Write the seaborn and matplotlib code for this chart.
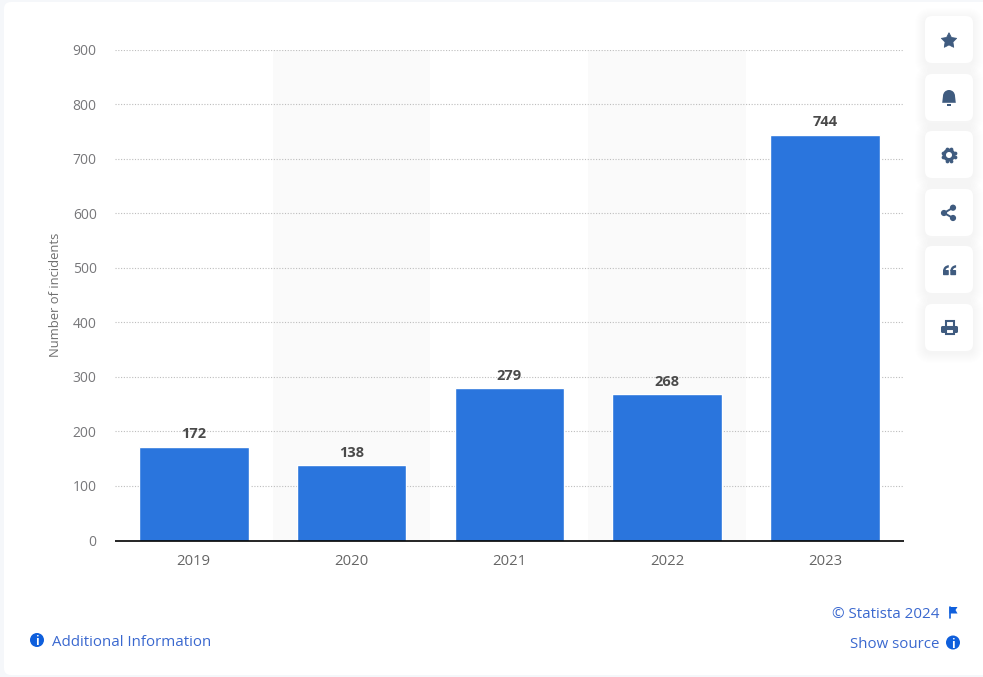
import math
import matplotlib
matplotlib.use('Agg')
import matplotlib.pyplot as plt
import matplotlib.patches as mpatches
import pandas as pd
import seaborn as sns

years = ['2019', '2020', '2021', '2022', '2023']
incidents = [172, 138, 279, 268, 744]
y_ticks = [0, 100, 200, 300, 400, 500, 600, 700, 800, 900]
shaded_years = ['2020', '2022']

sns.set_style('white')
plt.rcParams['font.family'] = ['Open Sans', 'DejaVu Sans']

W, H = 983, 677
BLUE = '#2a75dd'
ICON = '#3f5b7f'
LINK = '#0f5fdc'
LINK_TEXT = '#3a68cf'

df = pd.DataFrame({'year': years, 'incidents': incidents})

fig = plt.figure(figsize=(W / 100, H / 100), dpi=100, facecolor='#f5f7fa')

# page behind the chart, pixel coordinates
bg = fig.add_axes([0, 0, 1, 1], zorder=0)
bg.set_xlim(0, W)
bg.set_ylim(H, 0)
bg.axis('off')
bg.add_patch(mpatches.FancyBboxPatch((4, 2), W + 20, 673, boxstyle='round,pad=0,rounding_size=7',
                                     fc='white', ec='none'))

ax = fig.add_axes([114.8 / W, 1 - 540.5 / H, 789.2 / W, 491 / H], zorder=1)
ax.patch.set_alpha(0)
sns.barplot(data=df, x='year', y='incidents', color=BLUE, width=0.695, saturation=1, ax=ax, zorder=3)
ax.set_xlim(-0.5, 4.5)
ax.set_ylim(0, 900)

for yr in shaded_years:
    i = years.index(yr)
    ax.axvspan(i - 0.5, i + 0.5, color='#fafafa', lw=0, zorder=0)

ax.set_yticks(y_ticks)
ax.yaxis.grid(True, color='#bdbdbd', linestyle=(0, (1, 1.5)), linewidth=0.8, zorder=1)
ax.xaxis.grid(False)
ax.set_axisbelow(True)
sns.despine(ax=ax, left=True)
ax.spines['bottom'].set_color('#000000')
ax.spines['bottom'].set_linewidth(1.2)
ax.spines['bottom'].set_capstyle('butt')
ax.spines['bottom'].set_zorder(5)
ax.tick_params(axis='y', length=0, pad=13, labelsize=10, labelcolor='#77777a')
ax.tick_params(axis='x', length=0, pad=10, labelsize=10.7, labelcolor='#666666')
ax.set_xlabel('')
ax.set_ylabel('Number of incidents', fontsize=9.4, color='#6f6f6f')
ax.yaxis.set_label_coords((62 - 114.8) / 789.2, (540.5 - 295) / 491)

ax.bar_label(ax.containers[0], labels=[str(v) for v in incidents], padding=4,
             fontsize=10.5, fontweight='bold', color='#4a4a4a')

# side buttons and footer on a top overlay
top = fig.add_axes([0, 0, 1, 1], zorder=2)
top.set_xlim(0, W)
top.set_ylim(H, 0)
top.axis('off')

button_tops = [16, 74, 131, 189, 246, 304]
for by in button_tops:
    for grow in range(10, 0, -1):
        top.add_patch(mpatches.FancyBboxPatch((925 - grow, by - grow + 2), 48 + 2 * grow, 47 + 2 * grow,
                                              boxstyle='round,pad=0,rounding_size=%d' % (6 + grow),
                                              fc='#3f5b7f', ec='none', alpha=0.005))
    top.add_patch(mpatches.FancyBboxPatch((925, by), 48, 47, boxstyle='round,pad=0,rounding_size=7',
                                          fc='white', ec='none'))

# star
star = []
for k in range(10):
    r = 8 if k % 2 == 0 else 4.1
    ang = math.radians(-90 + 36 * k)
    star.append((949 + r * math.cos(ang), 40.8 + r * math.sin(ang)))
top.add_patch(mpatches.Polygon(star, closed=True, fc=ICON, ec=ICON, lw=0.6, joinstyle='round'))

# bell
top.add_patch(mpatches.Wedge((949, 96), 6, 180, 360, fc=ICON, ec='none'))
top.add_patch(mpatches.Polygon([(943, 96), (955, 96), (955.8, 102.8), (942.2, 102.8)], fc=ICON, ec='none'))
top.add_patch(mpatches.Rectangle((947, 104.3), 4, 1.4, fc=ICON, ec='none'))

# gear
for k in range(8):
    ang = math.radians(22.5 + 45 * k)
    top.plot(949 + 6.4 * math.cos(ang), 155 + 6.4 * math.sin(ang), marker='o', ms=2.7, color=ICON, mew=0)
top.add_patch(mpatches.Circle((949, 155), 6.4, fc=ICON, ec='none'))
top.add_patch(mpatches.Circle((949, 155), 3, fc='white', ec='none'))

# share
top.plot([953, 944, 953], [207.7, 213, 218], color=ICON, lw=1.4)
for sx, sy in [(953, 207.7), (944, 213), (953, 218)]:
    top.add_patch(mpatches.Circle((sx, sy), 3.1, fc=ICON, ec='none'))

# quotes
for qx in (943, 950.3):
    top.add_patch(mpatches.FancyBboxPatch((qx, 270), 5.8, 5.2, boxstyle='round,pad=0,rounding_size=0.8', fc=ICON, ec='none'))
    top.add_patch(mpatches.Wedge((qx + 5.8, 271), 5.8, 180, 270, width=2.4, fc=ICON, ec='none'))

# printer
top.add_patch(mpatches.Rectangle((945.5, 321), 8, 5.5, fc='white', ec=ICON, lw=1.5))
top.add_patch(mpatches.FancyBboxPatch((941, 326), 17, 7, boxstyle='round,pad=0,rounding_size=1.5', fc=ICON, ec='none'))
top.add_patch(mpatches.Rectangle((945.5, 329), 8, 5.3, fc='white', ec=ICON, lw=1.5))


def info_icon(x, y):
    top.add_patch(mpatches.Circle((x, y), 7, fc=LINK, ec='none'))
    top.text(x, y, 'i', color='white', fontsize=8.5, fontweight='bold', ha='center', va='center_baseline')


info_icon(37, 640)
top.text(52, 642, 'Additional Information', color=LINK_TEXT, fontsize=10.8, ha='left', va='center')
top.text(939, 644, 'Show source', color=LINK_TEXT, fontsize=10.8, ha='right', va='center')
info_icon(953, 642.5)
top.text(939, 614, '© Statista 2024', color=LINK_TEXT, fontsize=10.9, ha='right', va='center')
top.plot([949.5, 949.5], [607, 618], color=LINK, lw=1.2)
top.add_patch(mpatches.Polygon([(949.5, 607), (957.5, 607), (955.5, 610), (957.5, 613.5), (949.5, 613.5)], fc=LINK, ec='none'))

fig.savefig('out.png', dpi=100, facecolor=fig.get_facecolor())
